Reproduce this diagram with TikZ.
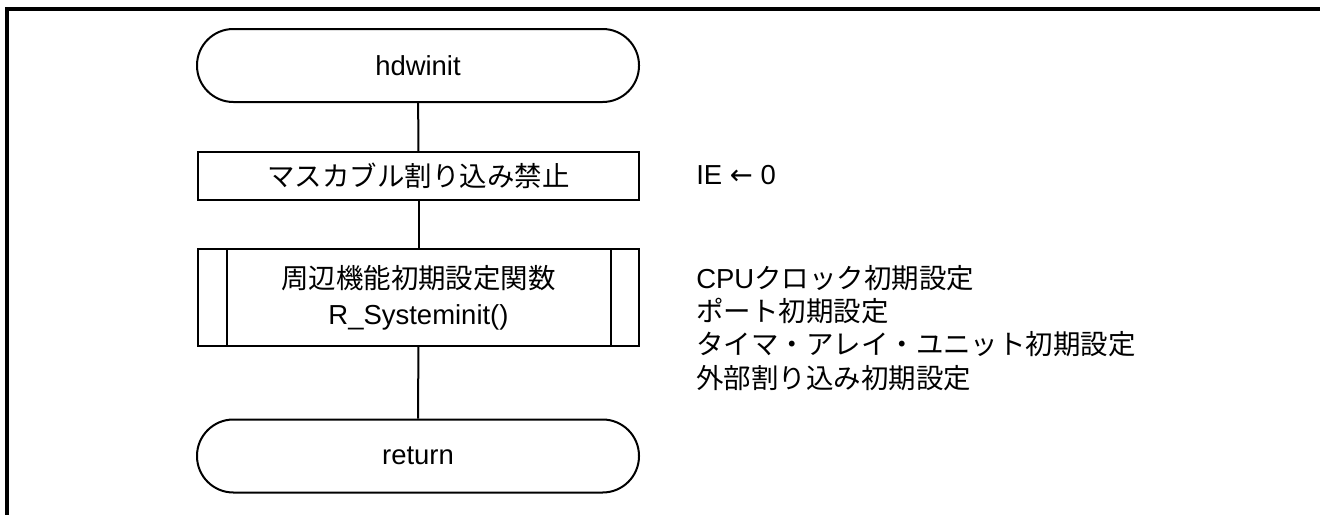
\documentclass[tikz,border=0pt]{standalone}
\usepackage{fontspec}
\setmainfont{Liberation Sans}
\newfontfamily\jp{Noto Sans CJK JP}
\newfontfamily\sym{DejaVu Sans}
\begin{document}
\begin{tikzpicture}[x=0.75pt,y=-0.75pt,
  every node/.style={font=\fontsize{20.6}{25.2}\selectfont},
  shape line/.style={line width=1.5pt},
  terminal/.style={shape line,draw,rectangle,rounded corners=27.3pt,minimum width=331.5pt,minimum height=54.75pt,inner sep=0pt},
  procbox/.style={shape line,draw,rectangle,minimum width=330.75pt,minimum height=36pt,inner sep=0pt},
  subbox/.style={shape line,draw,rectangle,minimum width=330.75pt,minimum height=72.75pt,inner sep=0pt,align=center},
  note/.style={anchor=west,inner sep=0pt,align=left},
  link/.style={shape line}
]
\useasboundingbox (0,0) rectangle (1320,514);
\draw[line width=2.5pt] (7,515) -- (7,9) -- (1321,9);

\node[terminal] (start) at (418,65.5) {hdwinit};
\node[procbox] (mask) at (418.5,176) {{\jp マスカブル割り込み禁止}};
\node[subbox] (sys) at (418.5,297.5) {{\jp 周辺機能初期設定関数}\\[1.5pt]R\_Systeminit()};
\draw[shape line] ([xshift=22.5pt]sys.north west) -- ([xshift=22.5pt]sys.south west);
\draw[shape line] ([xshift=-21.75pt]sys.north east) -- ([xshift=-21.75pt]sys.south east);
\node[terminal] (ret) at (418,456) {return};

\draw[link] (start) -- (mask);
\draw[link] (mask) -- (sys);
\draw[link] (sys) -- (ret);

\node[note] (ie) at (696,175) {IE {\sym ←} 0};
\node[note] (inits) at (696,328) {CPU{\jp クロック初期設定}\\[-0.3pt]{\jp ポート初期設定}\\[-0.3pt]{\jp タイマ・アレイ・ユニット初期設定}\\[-0.3pt]{\jp 外部割り込み初期設定}};
\end{tikzpicture}
\end{document}
